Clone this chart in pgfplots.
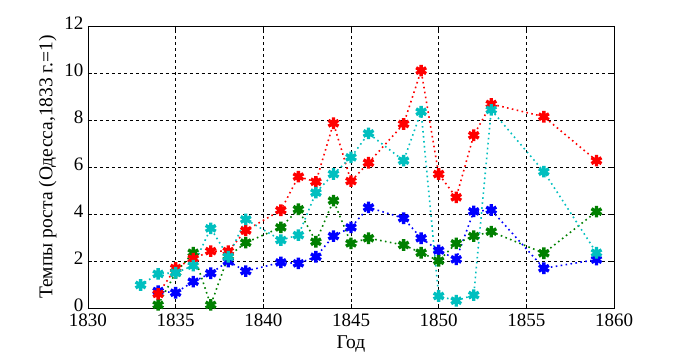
\documentclass[border=0pt]{standalone}
\usepackage{fontspec}
\setmainfont{Liberation Serif}
\usepackage{pgfplots}
\pgfplotsset{compat=1.18}

\definecolor{mred}{rgb}{1,0,0}
\definecolor{mblue}{rgb}{0,0,1}
\definecolor{mgreen}{rgb}{0,0.5,0}
\definecolor{mcyan}{rgb}{0,0.75,0.75}

\pgfplotsset{
  ser/.style={
    #1, line width=1.6pt, dash pattern=on 1.6pt off 3.4pt,
    mark=asterisk, mark size=5.8bp,
    mark options={solid, line width=3.4pt, #1}
  }
}

\begin{document}
\begin{tikzpicture}
\useasboundingbox (-88bp,-52bp) rectangle (592bp,308bp);
\begin{axis}[
  scale only axis,
  width=526bp, height=282bp,
  xmin=1830, xmax=1860, ymin=0, ymax=12,
  xtick={1830,1835,...,1860},
  ytick={0,2,...,12},
  grid=major,
  major grid style={black, dashed, line width=0.6pt},
  axis line style={black, line width=0.8pt},
  tick align=inside, tick pos=both,
  major tick length=4bp,
  tick style={black, line width=0.6pt},
  /pgf/number format/1000 sep={},
  /pgf/number format/assume math mode=true,
  ticklabel style={font=\fontsize{19bp}{21bp}\selectfont},
  xticklabel style={yshift=-2bp},
  yticklabel style={xshift=-1bp, yshift=3bp},
  label style={font=\fontsize{19.5bp}{22bp}\selectfont},
  xlabel={Год},
  ylabel={Темпы роста (Одесса,1833 г.=1)},
  xlabel style={yshift=-3bp},
  ylabel style={yshift=1bp},
  clip=false,
]
\addplot[ser=mblue] coordinates {
(1834,0.72) (1835,0.65) (1836,1.12) (1837,1.48) (1838,1.98) (1839,1.57)
(1841,1.94) (1842,1.90) (1843,2.18) (1844,3.06) (1845,3.43) (1846,4.28)
(1848,3.82) (1849,2.97) (1850,2.45) (1851,2.07) (1852,4.11) (1853,4.17)
(1856,1.69) (1859,2.06)};
\addplot[ser=mgreen] coordinates {
(1834,0.13) (1835,1.50) (1836,2.35) (1837,0.13) (1838,2.20) (1839,2.78)
(1841,3.43) (1842,4.20) (1843,2.82) (1844,4.57) (1845,2.75) (1846,2.97)
(1848,2.68) (1849,2.35) (1850,2.01) (1851,2.75) (1852,3.06) (1853,3.25)
(1856,2.33) (1859,4.10)};
\addplot[ser=mred] coordinates {
(1834,0.60) (1835,1.70) (1836,2.10) (1837,2.42) (1838,2.42) (1839,3.30)
(1841,4.16) (1842,5.59) (1843,5.37) (1844,7.86) (1845,5.40) (1846,6.18)
(1848,7.83) (1849,10.10) (1850,5.70) (1851,4.71) (1852,7.35) (1853,8.68)
(1856,8.14) (1859,6.27)};
\addplot[ser=mcyan] coordinates {
(1833,0.98) (1834,1.45) (1835,1.50) (1836,1.80) (1837,3.39) (1838,2.18)
(1839,3.77) (1841,2.89) (1842,3.10) (1843,4.91) (1844,5.70) (1845,6.41)
(1846,7.43) (1848,6.27) (1849,8.35) (1850,0.51) (1851,0.31) (1852,0.55)
(1853,8.43) (1856,5.80) (1859,2.35)};
\end{axis}
\end{tikzpicture}
\end{document}
